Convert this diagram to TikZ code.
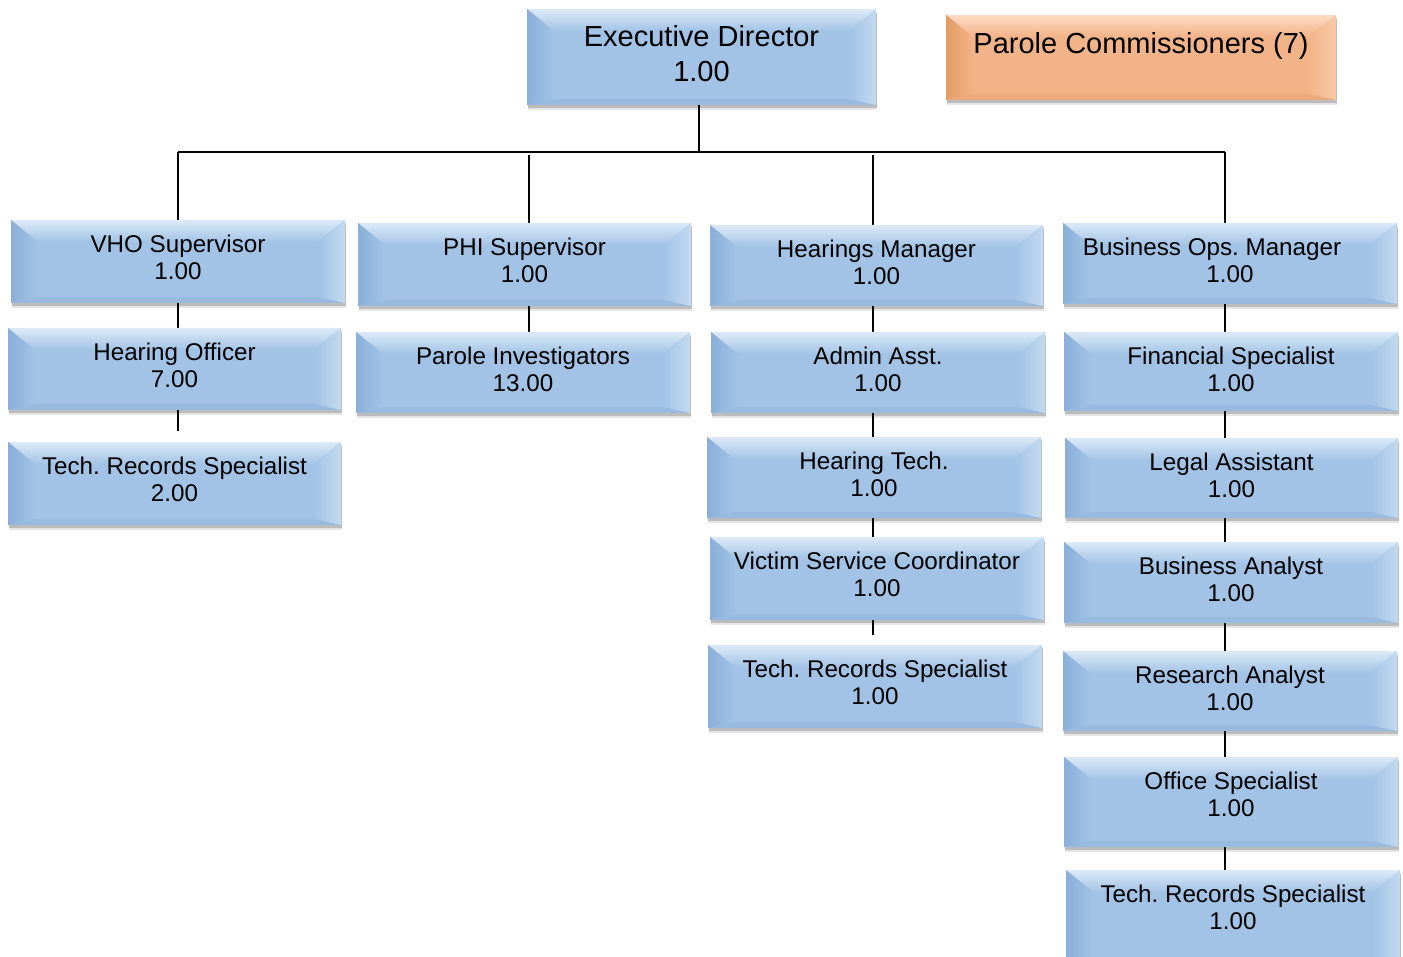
\documentclass[tikz,border=0pt]{standalone}
\usepackage{fontspec}
\setmainfont{Liberation Sans}
\frenchspacing
\usetikzlibrary{shadows,backgrounds,calc}
\definecolor{bbase}{HTML}{A2C3E6}
\definecolor{btop}{HTML}{DCEAF7}
\definecolor{bleft}{HTML}{8AAFD8}
\definecolor{bright}{HTML}{C3DAF0}
\definecolor{bbot}{HTML}{98BADF}
\definecolor{obase}{HTML}{F3B388}
\definecolor{otop}{HTML}{FCDCC2}
\definecolor{oleft}{HTML}{E49C66}
\definecolor{oright}{HTML}{F8CAA8}
\definecolor{obot}{HTML}{ECAA7A}
\tikzset{
  bevel/.style n args={5}{fill=#1, path picture={
    \coordinate (pnw) at (path picture bounding box.north west);
    \coordinate (pne) at (path picture bounding box.north east);
    \coordinate (psw) at (path picture bounding box.south west);
    \coordinate (pse) at (path picture bounding box.south east);
    \shade[top color=#2, bottom color=#1] (pnw) -- (pne) -- ($(pne)+(-27pt,-22pt)$) -- ($(pnw)+(27pt,-22pt)$) -- cycle;
    \fill[#5] (psw) -- (pse) -- ($(pse)+(-27pt,6pt)$) -- ($(psw)+(27pt,6pt)$) -- cycle;
    \shade[left color=#3, right color=#1] (pnw) -- ($(pnw)+(27pt,-22pt)$) -- ($(psw)+(27pt,6pt)$) -- (psw) -- cycle;
    \shade[left color=#1, right color=#4] (pne) -- ($(pne)+(-27pt,-22pt)$) -- ($(pse)+(-27pt,6pt)$) -- (pse) -- cycle;
  }},
  boxshadow/.style={
    drop shadow={shadow xshift=1pt, shadow yshift=-5pt, opacity=0.10, fill=black},
    drop shadow={shadow xshift=0.5pt, shadow yshift=-3pt, opacity=0.18, fill=black}},
  bluebox/.style={bevel={bbase}{btop}{bleft}{bright}{bbot}, draw=none, inner sep=0pt, boxshadow},
  orangebox/.style={bevel={obase}{otop}{oleft}{oright}{obot}, draw=none, inner sep=0pt, boxshadow},
  boxtext/.style={align=center, inner sep=0pt, text=black, font=\fontsize{24.2}{27.5}\selectfont},
  bigtext/.style={align=center, inner sep=0pt, text=black, font=\fontsize{29}{35}\selectfont},
  conn/.style={draw=black, line width=1.1pt},
}
\newcommand\orgbox[7]{%
  \node[#1, minimum width={(#5-#3)*1pt}, minimum height={(#6-#4)*1pt}] (#2) at ({(#3+#5)/2},{(#4+#6)/2}) {};
  \node[boxtext] (#2-t) at ({(#3+#5)/2},{#4+37.5}) {#7};
}
\begin{document}
\begin{tikzpicture}[x=1pt,y=-1pt]
\useasboundingbox (0,0) rectangle (1403,957);

% top level
\node[bluebox, minimum width=349pt, minimum height=96pt] (exec) at (701.5,57) {};
\node[bigtext] (exec-t) at (701.5,53.5) {Executive Director\\1.00};
\node[orangebox, minimum width=390pt, minimum height=85pt] (pc) at (1141,57.5) {};
\node[bigtext] (pc-t) at (1141,46) {Parole Commissioners (7)};

% column 1
\orgbox{bluebox}{vho}{11}{220}{345}{303}{VHO Supervisor\\1.00}
\orgbox{bluebox}{ho}{8}{328}{341}{410}{Hearing Officer\\7.00}
\orgbox{bluebox}{trsa}{8}{442}{341}{525}{Tech. Records Specialist\\2.00}
% column 2
\orgbox{bluebox}{phi}{358}{223}{691}{306}{PHI Supervisor\\1.00}
\orgbox{bluebox}{pi}{356}{332}{690}{413}{Parole Investigators\\13.00}
% column 3
\orgbox{bluebox}{hm}{710}{225}{1043}{306}{Hearings Manager\\1.00}
\orgbox{bluebox}{aa}{711}{332}{1045}{413}{Admin Asst.\\1.00}
\orgbox{bluebox}{ht}{707}{437}{1041}{518}{Hearing Tech.\\1.00}
\orgbox{bluebox}{vsc}{710}{537}{1044}{620}{Victim Service Coordinator\\1.00}
\orgbox{bluebox}{trsb}{708}{645}{1042}{728}{Tech. Records Specialist\\1.00}
% column 4
\node[bluebox, minimum width=334pt, minimum height=81pt] (bom) at (1230,263.5) {};
\node[boxtext] (bom-t) at (1212,260.5) {Business Ops. Manager\\\hspace*{36pt}1.00};
\orgbox{bluebox}{fs}{1064}{332}{1398}{411}{Financial Specialist\\1.00}
\orgbox{bluebox}{la}{1065}{438}{1398}{518}{Legal Assistant\\1.00}
\orgbox{bluebox}{ba}{1064}{542}{1398}{623}{Business Analyst\\1.00}
\orgbox{bluebox}{ra}{1063}{651}{1397}{731}{Research Analyst\\1.00}
\orgbox{bluebox}{os}{1064}{757}{1398}{847}{Office Specialist\\1.00}
\orgbox{bluebox}{trsc}{1066}{870}{1400}{966}{Tech. Records Specialist\\1.00}

\coordinate (bus) at (699,152);
\coordinate (c1) at (178,152);
\coordinate (c2) at (529,155);
\coordinate (c3) at (873,155);
\coordinate (c4) at (1225,152);

\begin{pgfonlayer}{background}
\draw[conn] (exec.south -| bus) -- (bus);
\draw[conn] (c1) -- (c4);
\draw[conn] (c1) -- (vho.north -| c1);
\draw[conn] (c2) -- (phi.north -| c2);
\draw[conn] (c3) -- (hm.north -| c3);
\draw[conn] (c4) -- (bom.north -| c4);
% column 1
\draw[conn] (vho.south -| c1) -- (ho.north -| c1);
\draw[conn, shorten >=11pt] (ho.south -| c1) -- (trsa.north -| c1);
% column 2
\draw[conn] (phi.south -| c2) -- (pi.north -| c2);
% column 3
\draw[conn] (hm.south -| c3) -- (aa.north -| c3);
\draw[conn] (aa.south -| c3) -- (ht.north -| c3);
\draw[conn] (ht.south -| c3) -- (vsc.north -| c3);
\draw[conn, shorten >=10pt] (vsc.south -| c3) -- (trsb.north -| c3);
% column 4
\draw[conn] (bom.south -| c4) -- (fs.north -| c4);
\draw[conn] (fs.south -| c4) -- (la.north -| c4);
\draw[conn] (la.south -| c4) -- (ba.north -| c4);
\draw[conn] (ba.south -| c4) -- (ra.north -| c4);
\draw[conn] (ra.south -| c4) -- (os.north -| c4);
\draw[conn] (os.south -| c4) -- (trsc.north -| c4);
\end{pgfonlayer}
\end{tikzpicture}
\end{document}
